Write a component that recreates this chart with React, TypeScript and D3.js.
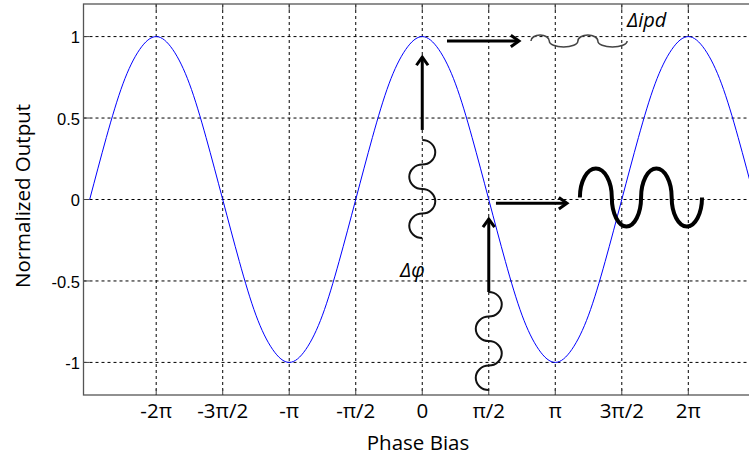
import React from 'react';
import * as d3 from 'd3';

// phase bias in units of pi, sampled every pi/8
const phaseSteps = d3.range(-2.5, 2.5001, 0.125);
// normalized output at those phases
const outputValues = [
  0, 0.38, 0.71, 0.92, 1, 0.92, 0.71, 0.38,
  0, -0.38, -0.71, -0.92, -1, -0.92, -0.71, -0.38,
  0, 0.38, 0.71, 0.92, 1, 0.92, 0.71, 0.38,
  0, -0.38, -0.71, -0.92, -1, -0.92, -0.71, -0.38,
  0, 0.38, 0.71, 0.92, 1, 0.92, 0.71, 0.38, 0,
];

const xTickValues = [-2, -1.5, -1, -0.5, 0, 0.5, 1, 1.5, 2];
const xTickLabels = ['-2π', '-3π/2', '-π', '-π/2', '0', 'π/2', 'π', '3π/2', '2π'];
const yTickValues = [-1, -0.5, 0, 0.5, 1];
const yTickLabels = ['-1', '-0.5', '0', '0.5', '1'];

const W = 749;
const H = 454;
const plotLeft = 83.5;
const plotRight = 761;
const plotTop = 4;
const plotBottom = 395;

const labelFont = '"Open Sans", sans-serif';

export default function App() {
  const x = d3.scaleLinear().domain([-8, 8]).range([plotLeft, plotRight]);
  const y = d3.scaleLinear().domain([-1.2, 1.2]).range([plotBottom, plotTop]);
  const xp = (k: number) => x(k * Math.PI);

  const pts: [number, number][] = phaseSteps.map((k, i) => [k, outputValues[i]]);
  const line = d3
    .line<[number, number]>()
    .x((d) => xp(d[0]))
    .y((d) => y(d[1]))
    .curve(d3.curveNatural);

  // open arrow (line + chevron head)
  const arrow = (x1: number, y1: number, x2: number, y2: number) => {
    const a = Math.atan2(y2 - y1, x2 - x1);
    const len = 10;
    const spread = 0.62;
    const h1 = [x2 - len * Math.cos(a - spread), y2 - len * Math.sin(a - spread)];
    const h2 = [x2 - len * Math.cos(a + spread), y2 - len * Math.sin(a + spread)];
    return (
      <g stroke="#000" strokeWidth={3} fill="none" strokeLinecap="butt">
        <line x1={x1} y1={y1} x2={x2 - 1.5 * Math.cos(a)} y2={y2 - 1.5 * Math.sin(a)} />
        <polyline points={`${h1[0]},${h1[1]} ${x2},${y2} ${h2[0]},${h2[1]}`} strokeLinejoin="miter" />
      </g>
    );
  };

  // chain of half-ellipses going down, alternating bulge right/left
  const vWiggle = (cx: number, yStart: number, yEnd: number, n: number, amp: number) => {
    const seg = (yEnd - yStart) / n;
    let d = `M${cx},${yStart}`;
    for (let i = 0; i < n; i++) {
      d += ` A${amp},${seg / 2} 0 0 ${i % 2 === 0 ? 1 : 0} ${cx},${yStart + seg * (i + 1)}`;
    }
    return d;
  };

  // chain of half-ellipses going right, alternating up/down
  const hWiggle = (cy: number, xs: number[], amp: number) => {
    let d = `M${xs[0]},${cy}`;
    for (let i = 1; i < xs.length; i++) {
      d += ` A${(xs[i] - xs[i - 1]) / 2},${amp} 0 0 ${i % 2 === 1 ? 1 : 0} ${xs[i]},${cy}`;
    }
    return d;
  };

  const smallWaveX = [0.817, 0.955, 1.17, 1.32, 1.54].map(xp);
  const bigWaveX = [1.185, 1.425, 1.645, 1.875, 2.103].map(xp);

  return (
    <svg
      width={W}
      height={H}
      style={{ position: 'absolute', left: 0, top: 0, background: '#fff' }}
    >
      <defs>
        <clipPath id="plot">
          <rect x={plotLeft} y={plotTop} width={plotRight - plotLeft} height={plotBottom - plotTop} />
        </clipPath>
      </defs>

      {/* grid */}
      <g stroke="#000" strokeWidth={1} strokeDasharray="3,3">
        {xTickValues.map((k) => (
          <line key={'gx' + k} x1={xp(k)} x2={xp(k)} y1={plotTop} y2={plotBottom} />
        ))}
        {yTickValues.map((v) => (
          <line key={'gy' + v} x1={plotLeft} x2={plotRight} y1={y(v)} y2={y(v)} />
        ))}
      </g>

      {/* ticks */}
      <g stroke="#444" strokeWidth={1}>
        {xTickValues.map((k) => (
          <g key={'tx' + k}>
            <line x1={xp(k)} x2={xp(k)} y1={plotBottom} y2={plotBottom - 6} />
            <line x1={xp(k)} x2={xp(k)} y1={plotTop} y2={plotTop + 6} />
          </g>
        ))}
        {yTickValues.map((v) => (
          <line key={'ty' + v} x1={plotLeft} x2={plotLeft + 6} y1={y(v)} y2={y(v)} />
        ))}
      </g>

      {/* curve */}
      <path d={line(pts) || ''} fill="none" stroke="#0000ff" strokeWidth={1} clipPath="url(#plot)" />

      {/* frame */}
      <rect
        x={plotLeft}
        y={plotTop}
        width={plotRight - plotLeft}
        height={plotBottom - plotTop}
        fill="none"
        stroke="#555"
        strokeWidth={1.3}
      />

      {/* tick labels */}
      {xTickValues.map((k, i) => (
        <text
          key={'lx' + k}
          x={xp(k)}
          y={417.5}
          textAnchor="middle"
          fontFamily={labelFont}
          fontSize={20.5}
          fill="#000"
        >
          {xTickLabels[i]}
        </text>
      ))}
      {yTickValues.map((v, i) => (
        <text
          key={'ly' + v}
          x={80}
          y={y(v)}
          dy="0.41em"
          textAnchor="end"
          fontFamily='"Liberation Sans", Arial, sans-serif'
          fontSize={16.5}
          fill="#000"
        >
          {yTickLabels[i]}
        </text>
      ))}

      {/* axis titles */}
      <text x={418} y={449.5} textAnchor="middle" fontFamily={labelFont} fontSize={20.5} fill="#000">
        Phase Bias
      </text>
      <text
        transform="translate(30,196) rotate(-90)"
        textAnchor="middle"
        fontFamily={labelFont}
        fontSize={20.5}
        fill="#000"
      >
        Normalized Output
      </text>

      {/* annotations */}
      {arrow(xp(0), y(0.427), xp(0), y(0.874))}
      {arrow(xp(0.186), y(0.973), xp(0.727), y(0.973))}
      {arrow(xp(0.5), y(-0.568), xp(0.5), y(-0.12))}
      {arrow(xp(0.554), y(-0.023), xp(1.088), y(-0.023))}

      <path d={vWiggle(xp(0), y(0.365), y(-0.237), 4, 13)} fill="none" stroke="#111" strokeWidth={2} />
      <path d={vWiggle(xp(0.5), y(-0.568), y(-1.17), 4, 13)} fill="none" stroke="#111" strokeWidth={2} />
      <path d={hWiggle(y(0.973), smallWaveX, 6)} fill="none" stroke="#444" strokeWidth={1.5} />
      <path d={hWiggle(y(0.012), bigWaveX, 29)} fill="none" stroke="#000" strokeWidth={4} />

      <text x={627} y={26.5} fontFamily={labelFont} fontStyle="italic" fontSize={20} fill="#000">
        Δipd
      </text>
      <text x={400} y={277} fontFamily={labelFont} fontStyle="italic" fontSize={20} fill="#000">
        Δφ
      </text>
    </svg>
  );
}
